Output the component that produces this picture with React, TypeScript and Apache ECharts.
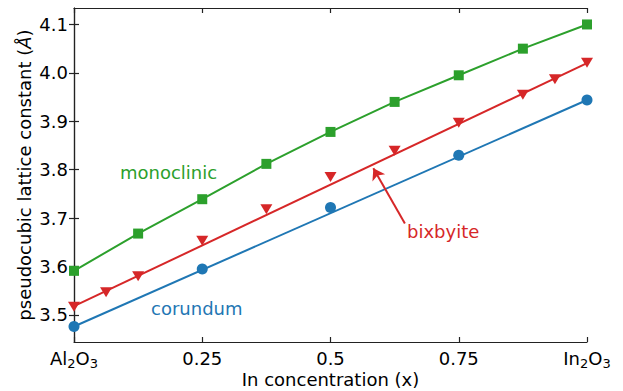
import React, { useEffect, useRef } from "react";
import * as echarts from "echarts";

const xTicks = [0, 0.25, 0.5, 0.75, 1];
const yTicks = [3.5, 3.6, 3.7, 3.8, 3.9, 4.0, 4.1];

const monoX = [0, 0.125, 0.25, 0.375, 0.5, 0.625, 0.75, 0.875, 1];
const monoY = [3.591, 3.668, 3.739, 3.812, 3.878, 3.94, 3.995, 4.05, 4.1];

const bixX = [0, 0.0625, 0.125, 0.25, 0.375, 0.5, 0.625, 0.75, 0.875, 0.9375, 1];
const bixY = [3.517, 3.547, 3.58, 3.653, 3.718, 3.785, 3.839, 3.897, 3.955, 3.987, 4.021];
const bixFitX = [0, 1];
const bixFitY = [3.518, 4.02];

const corX = [0, 0.25, 0.5, 0.75, 1];
const corY = [3.476, 3.595, 3.722, 3.83, 3.944];
const corFitX = [0, 1];
const corFitY = [3.476, 3.944];

const arrowFrom = [0.645, 3.689];
const arrowTo = [0.5835, 3.803];

const GREEN = "#2ca02c";
const RED = "#d62728";
const BLUE = "#1f77b4";
const FONT = "DejaVu Sans";
const FS = 18;

const zip = (xs: number[], ys: number[]) => xs.map((x, i) => [x, ys[i]]);

export default function App() {
  const ref = useRef<HTMLDivElement>(null);
  useEffect(() => {
    if (!ref.current) return;
    const chart = echarts.init(ref.current, undefined, { renderer: "svg" });
    const axisLine = { show: true, lineStyle: { color: "#222", width: 1.2 } };
    const tick = { show: true, inside: true, length: 5, lineStyle: { color: "#222", width: 1.2 } };
    const rich = {
      m: { fontFamily: FONT, fontSize: FS, color: "#000", verticalAlign: "bottom", lineHeight: 20 },
      s: { fontFamily: FONT, fontSize: 13, color: "#000", verticalAlign: "bottom", lineHeight: 16, padding: [0, 0, -3, 0] },
    };
    chart.setOption({
      animation: false,
      textStyle: { fontFamily: FONT },
      grid: { left: 74, right: 36, top: 8, bottom: 49, containLabel: false, outerBoundsMode: "none" },
      xAxis: [
        {
          type: "value",
          min: 0,
          max: 1,
          interval: 0.25,
          axisLine,
          axisTick: tick,
          splitLine: { show: false },
          axisLabel: {
            margin: 5,
            fontSize: FS,
            color: "#000",
            fontFamily: FONT,
            customValues: xTicks,
            formatter: (v: number) =>
              v === 0 ? "{m|Al}{s|2}{m|O}{s|3}" : v === 1 ? "{m|In}{s|2}{m|O}{s|3}" : "{m|" + String(v) + "}",
            rich,
          },
          name: "In concentration (x)",
          nameLocation: "middle",
          nameGap: 37,
          nameMoveOverlap: false,
          nameTextStyle: { fontSize: FS, color: "#000", fontFamily: FONT, verticalAlign: "middle", lineHeight: 18 },
        },
        {
          type: "value",
          position: "top",
          min: 0,
          max: 1,
          interval: 0.25,
          axisLine,
          axisTick: tick,
          axisLabel: { show: false },
          splitLine: { show: false },
        },
      ],
      yAxis: [
        {
          type: "value",
          min: 3.444,
          max: 4.134,
          axisLine,
          axisTick: { ...tick, customValues: yTicks },
          splitLine: { show: false },
          axisLabel: {
            margin: 6,
            fontSize: FS,
            color: "#000",
            fontFamily: FONT,
            customValues: yTicks,
            formatter: (v: number) => v.toFixed(1),
          },
          name: "{t|pseudocubic lattice constant (}{i|Å}{t|)}",
          nameLocation: "middle",
          nameGap: 41,
          nameMoveOverlap: false,
          nameTextStyle: {
            rich: {
              t: { fontSize: FS, color: "#000", fontFamily: FONT },
              i: { fontSize: FS, color: "#000", fontFamily: FONT, fontStyle: "italic" },
            },
          },
        },
        {
          type: "value",
          position: "right",
          min: 3.444,
          max: 4.134,
          axisLine,
          axisTick: { ...tick, customValues: yTicks },
          axisLabel: { show: false, customValues: yTicks },
          splitLine: { show: false },
        },
      ],
      series: [
        {
          type: "line",
          data: zip(corFitX, corFitY),
          showSymbol: false,
          symbol: "none",
          lineStyle: { color: BLUE, width: 2 },
          z: 2,
        },
        {
          type: "scatter",
          data: zip(corX, corY),
          symbol: "circle",
          symbolSize: 11,
          itemStyle: { color: BLUE, opacity: 1 },
          z: 3,
        },
        {
          type: "line",
          data: zip(bixFitX, bixFitY),
          showSymbol: false,
          symbol: "none",
          lineStyle: { color: RED, width: 2 },
          z: 2,
        },
        {
          type: "scatter",
          data: zip(bixX, bixY),
          symbol: "triangle",
          symbolRotate: 180,
          symbolSize: [12, 10],
          itemStyle: { color: RED, opacity: 1 },
          z: 3,
        },
        {
          type: "line",
          data: zip(monoX, monoY),
          symbol: "rect",
          symbolSize: 10,
          showAllSymbol: true,
          itemStyle: { color: GREEN, opacity: 1 },
          lineStyle: { color: GREEN, width: 2 },
          z: 3,
        },
        {
          type: "lines",
          coordinateSystem: "cartesian2d",
          polyline: false,
          symbol: ["none", "arrow"],
          symbolSize: [0, 11],
          lineStyle: { color: RED, width: 2, opacity: 1 },
          data: [{ coords: [arrowFrom, arrowTo] }],
          z: 4,
        },
      ],
      graphic: [
        {
          type: "text",
          left: 120,
          top: 163,
          style: { text: "monoclinic", fill: GREEN, fontSize: FS, fontFamily: FONT },
        },
        {
          type: "text",
          left: 151,
          top: 299,
          style: { text: "corundum", fill: BLUE, fontSize: FS, fontFamily: FONT },
        },
        {
          type: "text",
          left: 407,
          top: 222,
          style: { text: "bixbyite", fill: RED, fontSize: FS, fontFamily: FONT },
        },
      ],
    });
    return () => chart.dispose();
  }, []);
  return (
    <div
      ref={ref}
      style={{ position: "absolute", left: 0, top: 0, width: 623, height: 391 }}
    />
  );
}
